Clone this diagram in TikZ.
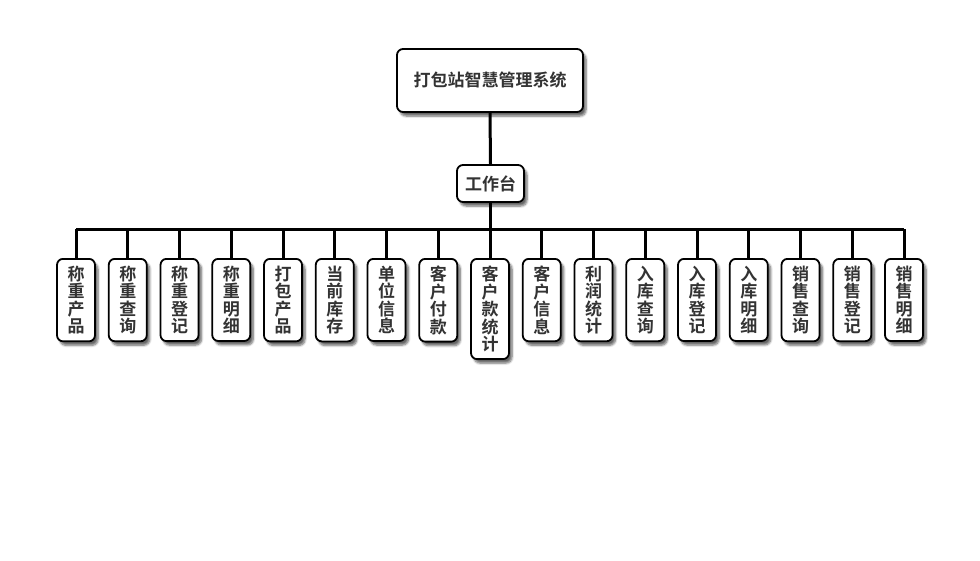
\documentclass[tikz,border=0pt]{standalone}
\usepackage{fontspec}
\setmainfont{Noto Sans CJK SC}[BoldFont={Noto Sans CJK SC Bold}]
\usetikzlibrary{positioning,shadows.blur}

\tikzset{
  box/.style={draw=black, line width=1.8pt, rounded corners=6pt, fill=white,
    blur shadow={shadow xshift=3pt, shadow yshift=-4pt, shadow blur steps=6, shadow opacity=60},
    text=black!80, font=\bfseries\fontsize{17}{17.5}\selectfont, align=center},
  leaf/.style={box, inner xsep=0pt, inner ysep=7pt, minimum width=38pt, text width=17pt},
  link/.style={line width=3pt, black}
}

\begin{document}
\begin{tikzpicture}[x=1pt,y=-1pt]
  \useasboundingbox (0,0) rectangle (980,560);
  \node[box, minimum width=186pt, minimum height=63pt] (root) at (490,80.5) {打包站智慧管理系统};
  \node[box, minimum width=67pt, minimum height=37pt, inner sep=2pt] (gzt) at (490.5,183.5) {工作台};
  \coordinate (bar) at (490.5,229);
% leaves
  \foreach \t [count=\i] in {称\\重\\产\\品, 称\\重\\查\\询, 称\\重\\登\\记, 称\\重\\明\\细,
      打\\包\\产\\品, 当\\前\\库\\存, 单\\位\\信\\息, 客\\户\\付\\款, 客\\户\\款\\统\\计,
      客\\户\\信\\息, 利\\润\\统\\计, 入\\库\\查\\询, 入\\库\\登\\记, 入\\库\\明\\细,
      销\\售\\查\\询, 销\\售\\登\\记, 销\\售\\明\\细}
    \node[leaf, anchor=north] (l\i) at ({76+(\i-1)*51.75},258) {\t};
  \draw[link] (root.south) -- (gzt.north);
  \draw[link] (gzt.south) -- (bar);
  \draw[link] (l1.north |- bar) -- (l17.north |- bar);
  \foreach \i in {1,...,17}
    \draw[link] (l\i.north |- bar) -- (l\i.north);
\end{tikzpicture}
\end{document}
